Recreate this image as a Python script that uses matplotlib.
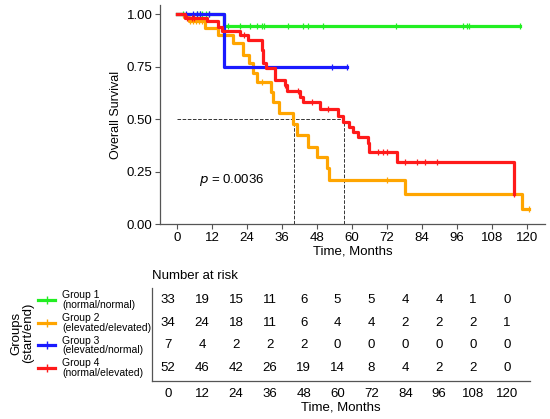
import numpy as np
import matplotlib
matplotlib.use("Agg")
import matplotlib.pyplot as plt
import matplotlib.transforms as mtransforms
from matplotlib.lines import Line2D

plt.rcParams["font.family"] = ["Liberation Sans", "DejaVu Sans"]

# --- Kaplan-Meier step data (month, survival after step) ---
g1_time = [0, 16.0, 117.7]
g1_surv = [1.0, 0.943, 0.943]
g1_cens = [2, 7, 8, 8.5, 10, 11, 17.6, 21.6, 25, 27.3, 29, 30, 38, 43.3, 45, 50, 75, 98, 99.4, 100, 117.7]

g2_time = [0, 2.5, 4.0, 9.6, 14.2, 19.3, 22.8, 24.8, 26.0, 27.6, 32.1, 33.1, 35.0, 39.9, 41.1,
           45.1, 47.9, 51.4, 52.0, 78.2, 118.3, 120.6]
g2_surv = [1.0, 0.984, 0.968, 0.935, 0.902, 0.860, 0.805, 0.765, 0.717, 0.678, 0.630, 0.583,
           0.527, 0.476, 0.424, 0.368, 0.317, 0.265, 0.21, 0.143, 0.07, 0.07]
g2_cens = [4.5, 5.5, 6.5, 7.5, 8.5, 16, 29, 72, 120.6]

g3_time = [0, 16.0, 58.2]
g3_surv = [1.0, 0.75, 0.75]
g3_cens = [3, 5.5, 7, 8, 11, 53, 58.2]

g4_time = [0, 2.7, 10.2, 14.2, 15.5, 21.6, 24.5, 29.0, 29.6, 30.5, 33.6, 37.0, 37.6, 42.2, 43.2,
           49.0, 55.3, 56.8, 59.1, 60.5, 62.2, 65.6, 66.0, 75.4, 115.4]
g4_surv = [1.0, 0.98, 0.965, 0.94, 0.92, 0.90, 0.875, 0.83, 0.765, 0.742, 0.686, 0.662, 0.635,
           0.606, 0.58, 0.548, 0.515, 0.487, 0.463, 0.44, 0.414, 0.384, 0.344, 0.297, 0.143]
g4_cens = [3.5, 5, 6, 23, 37.2, 41.6, 46.2, 51.9, 69, 70.8, 71.9, 78.2, 82.2, 85, 89, 115.4]

median_g2 = 40.0
median_g4 = 57.3

# --- number at risk table ---
risk_times = [0, 12, 24, 36, 48, 60, 72, 84, 96, 108, 120]
risk_g1 = [33, 19, 15, 11, 6, 5, 5, 4, 4, 1, 0]
risk_g2 = [34, 24, 18, 11, 6, 4, 4, 2, 2, 2, 1]
risk_g3 = [7, 4, 2, 2, 2, 0, 0, 0, 0, 0, 0]
risk_g4 = [52, 46, 42, 26, 19, 14, 8, 4, 2, 2, 0]

group_labels = ["Group 1\n(normal/normal)", "Group 2\n(elevated/elevated)",
                "Group 3\n(elevated/normal)", "Group 4\n(normal/elevated)"]
colors = ["#22ee22", "#ffa500", "#1a1aff", "#ff1a1a"]

groups = [(g1_time, g1_surv, g1_cens), (g2_time, g2_surv, g2_cens),
          (g3_time, g3_surv, g3_cens), (g4_time, g4_surv, g4_cens)]
risks = [risk_g1, risk_g2, risk_g3, risk_g4]

W, H = 550, 419
fig = plt.figure(figsize=(W / 100, H / 100), dpi=100)

spine_col = "#555555"

# --- main survival plot ---
ax = fig.add_axes([160 / W, 1 - 224 / H, 385 / W, 219 / H])
# draw order: green, blue, orange, red on top
for idx in [0, 2, 1, 3]:
    t, s, c = groups[idx]
    ax.step(t, s, where="post", color=colors[idx], lw=2.3, zorder=3 + idx * 0.1)
    t_arr = np.array(t)
    s_arr = np.array(s)
    pos = np.searchsorted(t_arr, np.array(c), side="right") - 1
    ax.plot(c, s_arr[pos], ls="none", marker="|", ms=4, mew=0.9, color=colors[idx], zorder=3 + idx * 0.1)

ax.plot([0, median_g4], [0.5, 0.5], ls="--", color="#333333", lw=0.7, zorder=2)
ax.plot([median_g2, median_g2], [0, 0.5], ls="--", color="#333333", lw=0.7, zorder=2)
ax.plot([median_g4, median_g4], [0, 0.5], ls="--", color="#333333", lw=0.7, zorder=2)

ax.text(7.5, 0.21, r"$p$ = 0.0036", fontsize=9.5, va="center", ha="left")

ax.set_xlim(-5.8, 126.2)
ax.set_ylim(0, 1.043)
ax.set_xticks(risk_times)
ax.set_yticks([0, 0.25, 0.5, 0.75, 1.0])
ax.set_yticklabels(["0.00", "0.25", "0.50", "0.75", "1.00"])
ax.tick_params(direction="out", length=3.5, width=0.8, color=spine_col, labelsize=9.5, pad=2)
for side in ["top", "right"]:
    ax.spines[side].set_visible(False)
for side in ["left", "bottom"]:
    ax.spines[side].set_color(spine_col)
    ax.spines[side].set_linewidth(0.9)
ax.set_ylabel("Overall Survival", fontsize=9, labelpad=3)
ax.set_xlabel("Time, Months", fontsize=9.5, labelpad=1)

# --- risk table ---
ax2 = fig.add_axes([152 / W, 1 - 381 / H, 378 / W, 93 / H])
ax2.set_xlim(-5.75, 128.2)
ax2.set_ylim(0.43, 4.53)
rows = [4, 3, 2, 1]
for r, vals in zip(rows, risks):
    for t, v in zip(risk_times, vals):
        ax2.text(t, r, str(v), fontsize=9.5, ha="center", va="center")
ax2.set_xticks(risk_times)
ax2.set_yticks([])
ax2.tick_params(axis="x", length=0, labelsize=9.5, pad=5)
for side in ["top", "right"]:
    ax2.spines[side].set_visible(False)
for side in ["left", "bottom"]:
    ax2.spines[side].set_color(spine_col)
    ax2.spines[side].set_linewidth(0.9)
ax2.set_xlabel("Time, Months", fontsize=9.5, labelpad=1)

fig.text(152 / W, 1 - 276 / H, "Number at risk", fontsize=9.5, ha="left", va="center")

# legend on the left of the table
trans = mtransforms.blended_transform_factory(fig.transFigure, ax2.transData)
for r, lab, col in zip(rows, group_labels, colors):
    ln = Line2D([38 / W, 55 / W], [r, r], color=col, lw=2.3, transform=trans)
    mk = Line2D([46.5 / W], [r], color=col, marker="|", ms=6, mew=1.0, ls="none", transform=trans)
    fig.add_artist(ln)
    fig.add_artist(mk)
    fig.text(62 / W, r, lab, fontsize=7.5, ha="left", va="center", linespacing=0.95,
             transform=trans)

fig.text(22 / W, 1 - 333 / H, "Groups\n(start/end)", fontsize=9.5, rotation=90,
         ha="center", va="center", linespacing=1.0)

fig.savefig("out.png", dpi=100)
